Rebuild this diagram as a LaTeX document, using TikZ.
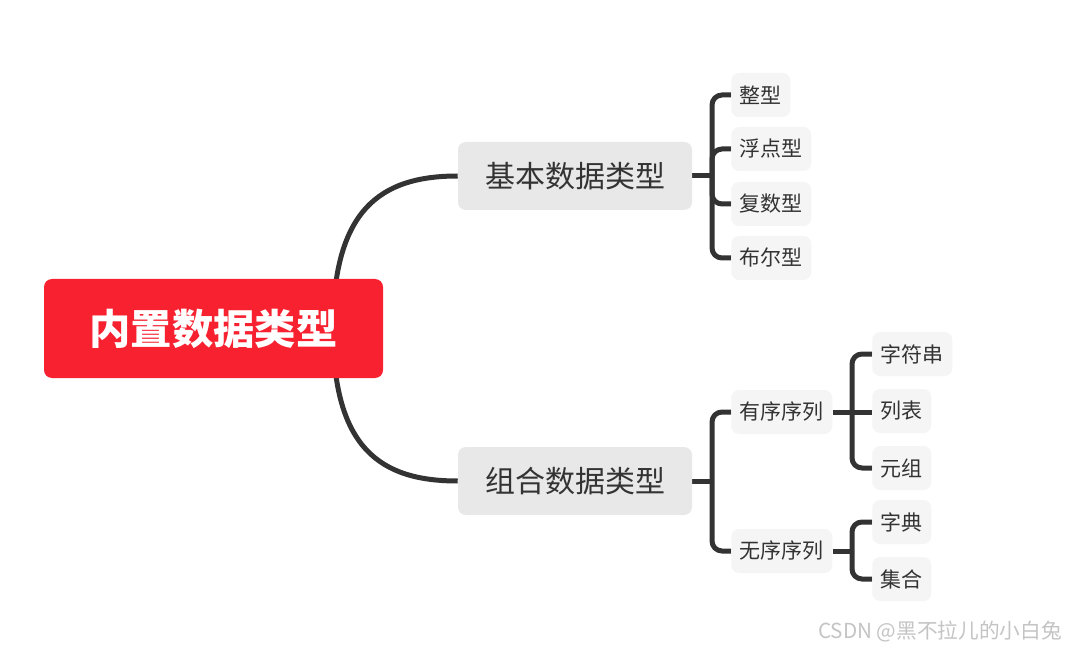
\documentclass[tikz,border=0pt]{standalone}
\usepackage{fontspec}
\setmainfont{Noto Sans CJK SC}
\definecolor{rootred}{HTML}{F72130}
\definecolor{lineclr}{HTML}{333333}
\definecolor{mainfill}{HTML}{E8E8E8}
\definecolor{leaffill}{HTML}{F5F5F5}
\definecolor{wm}{HTML}{C4C4C4}
\pgfdeclarelayer{bgfill}
\pgfdeclarelayer{bg}
\pgfsetlayers{bgfill,bg,main}
\tikzset{
  link/.style={draw=lineclr, line width=3.75pt, rounded corners=7.5pt},
  stub/.style={draw=lineclr, line width=3.75pt},
  rootbox/.style={fill=rootred, rounded corners=6pt, minimum width=254.25pt, minimum height=74.25pt, text=white, font=\fontsize{31}{36}\selectfont\bfseries},
  mainbox/.style={fill=mainfill, rounded corners=6pt, minimum width=175.5pt, minimum height=51pt, text=lineclr, font=\fontsize{22.5}{26}\selectfont},
  leafbox/.style={fill=leaffill, rounded corners=6pt, inner xsep=6.4pt, minimum height=33pt, text=lineclr, font=\fontsize{15.75}{18}\selectfont, anchor=west},
}
\begin{document}
\begin{tikzpicture}[x=0.75pt,y=-0.75pt]
\begin{pgfonlayer}{bgfill}
\fill[white] (0,0) rectangle (1066,648);
\end{pgfonlayer}
\useasboundingbox (0,0) rectangle (1066,648);
% nodes
\coordinate (rj) at (333,329);
\node[rootbox] (root) at (213.5,328.5) {内置数据类型};
\node[mainbox] (basic) at (575,176) {基本数据类型};
\node[mainbox] (comp) at (575,481) {组合数据类型};
\node[leafbox] (l1) at (731,95) {整型};
\node[leafbox] (l2) at (731,149) {浮点型};
\node[leafbox] (l3) at (731,204) {复数型};
\node[leafbox] (l4) at (731,258) {布尔型};
\node[leafbox] (ord) at (731,412) {有序序列};
\node[leafbox] (unord) at (731,551) {无序序列};
\node[leafbox] (s1) at (872,354) {字符串};
\node[leafbox] (s2) at (872,411) {列表};
\node[leafbox] (s3) at (872,468) {元组};
\node[leafbox] (u1) at (872,522) {字典};
\node[leafbox] (u2) at (872,579) {集合};
\coordinate (jb) at (712,176);
\coordinate (jc) at (712,481);
\coordinate (jo) at (852,412);
\coordinate (ju) at (852,551);
\begin{pgfonlayer}{bg}
% curves from root
\draw[stub] (rj) .. controls (333,210) and (380,176) .. (basic.west);
\draw[stub] (rj) .. controls (333,448) and (380,481) .. (comp.west);
% brackets
\draw[stub] (basic.east) -- (jb);
\draw[stub] (comp.east) -- (jc);
\draw[stub] (ord.east) -- (jo);
\draw[stub] (unord.east) -- (ju);
\foreach \l in {l1,l2,l3,l4}{\draw[link] (jb) |- (\l.west);}
\foreach \l in {ord,unord}{\draw[link] (jc) |- (\l.west);}
\foreach \l in {s1,s3}{\draw[link] (jo) |- (\l.west);}
\draw[stub] (jo) -- (s2.west |- jo);
\foreach \l in {u1,u2}{\draw[link] (ju) |- (\l.west);}
\end{pgfonlayer}
% watermark
\node[anchor=east, text=wm, font=\fontsize{15.5}{18}\selectfont, inner sep=0pt] (wmk) at (1062,632) {CSDN @黑不拉儿的小白兔};
\end{tikzpicture}
\end{document}
